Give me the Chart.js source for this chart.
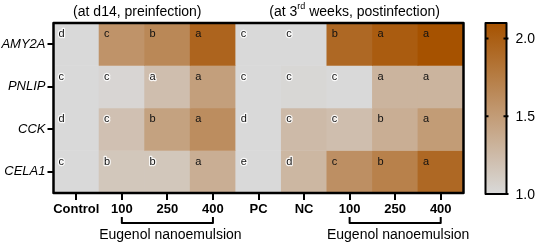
<!DOCTYPE html>
<html>
<head>
<meta charset="utf-8">
<script src="https://cdn.jsdelivr.net/npm/chart.js@4"></script>
<style>
html,body{margin:0;padding:0;background:#fff;}
canvas{display:block;}
</style>
</head>
<body>
<canvas id="heat" width="536" height="245"></canvas>
<script>
// heatmap of relative gene expression, drawn as floating bars (one dataset per gene row)
const genes = ['AMY2A', 'PNLIP', 'CCK', 'CELA1'];
const groups = ['Control', '100', '250', '400', 'PC', 'NC', '100', '250', '400'];

const amy2a = [1.0, 1.57, 1.66, 1.95, 1.0, 1.0, 1.92, 2.02, 2.1];
const pnlip = [1.0, 1.03, 1.22, 1.47, 1.0, 1.02, 1.0, 1.3, 1.3];
const cck   = [1.0, 1.2, 1.45, 1.62, 1.0, 1.25, 1.22, 1.35, 1.5];
const cela1 = [1.0, 1.15, 1.15, 1.35, 1.0, 1.28, 1.6, 1.72, 1.92];

const amy2aLetters = ['d', 'c', 'b', 'a', 'c', 'c', 'b', 'a', 'a'];
const pnlipLetters = ['c', 'c', 'a', 'a', 'c', 'c', 'c', 'a', 'a'];
const cckLetters   = ['d', 'c', 'b', 'a', 'd', 'c', 'c', 'b', 'a'];
const cela1Letters = ['c', 'b', 'b', 'a', 'e', 'd', 'c', 'b', 'a'];

const cbTicks = [1.0, 1.5, 2.0];
const cbMin = 1.0, cbMax = 2.1;

const rows = [amy2a, pnlip, cck, cela1];
const letterRows = [amy2aLetters, pnlipLetters, cckLetters, cela1Letters];

const lo = [217, 217, 217], hi = [166, 82, 0];
function colorFor(v){
  let t = (v - cbMin) / (cbMax - cbMin); t = Math.max(0, Math.min(1, t));
  const c = lo.map((a, k) => Math.round(a + (hi[k] - a) * t));
  return `rgb(${c[0]},${c[1]},${c[2]})`;
}

const FONT = 'Arial, "Liberation Sans", sans-serif';

const extras = {
  id: 'extras',
  afterDatasetsDraw(chart){
    const ctx = chart.ctx, xs = chart.scales.x, ys = chart.scales.y, a = chart.chartArea;
    const half = (xs.getPixelForValue(1) - xs.getPixelForValue(0)) / 2;
    ctx.save();
    // significance letters (white halo only on the pale cells)
    ctx.font = '11px ' + FONT; ctx.textBaseline = 'middle'; ctx.textAlign = 'left';
    ctx.lineJoin = 'round';
    letterRows.forEach((lr, r) => {
      lr.forEach((l, i) => {
        const x = xs.getPixelForValue(i) - half + 5;
        const y = ys.getPixelForValue(r - 0.5) + 11;
        if (rows[r][i] < 1.3) {
          ctx.strokeStyle = 'rgba(255,255,255,0.85)'; ctx.lineWidth = 2.5;
          ctx.strokeText(l, x, y);
        }
        ctx.fillStyle = '#111'; ctx.fillText(l, x, y);
      });
    });
    // plot frame
    ctx.strokeStyle = '#000'; ctx.lineWidth = 2.5;
    ctx.strokeRect(a.left, a.top, a.right - a.left, a.bottom - a.top);

    // colour bar
    const cx = a.right + 22, cw = 21, top = a.top, bot = a.bottom + 1;
    const g = ctx.createLinearGradient(0, bot, 0, top);
    for (let k = 0; k <= 10; k++) g.addColorStop(k / 10, colorFor(cbMin + (cbMax - cbMin) * k / 10));
    ctx.fillStyle = g; ctx.fillRect(cx, top, cw, bot - top);
    ctx.lineWidth = 2; ctx.strokeRect(cx, top, cw, bot - top);
    ctx.font = '14px ' + FONT; ctx.fillStyle = '#000'; ctx.textAlign = 'left'; ctx.textBaseline = 'middle';
    cbTicks.forEach(v => {
      const y = bot - (v - cbMin) / (cbMax - cbMin) * (bot - top);
      ctx.beginPath(); ctx.moveTo(cx, y); ctx.lineTo(cx + 3, y); ctx.moveTo(cx + cw - 3, y); ctx.lineTo(cx + cw + 2, y); ctx.stroke();
      ctx.fillText(v.toFixed(1), cx + cw + 9, y + 1);
    });

    // titles
    ctx.textAlign = 'center'; ctx.font = '14px ' + FONT;
    ctx.fillText('(at d14, preinfection)', xs.getPixelForValue(1.34), 12);
    const p1 = '(at 3', sup = 'rd', p2 = ' weeks, postinfection)';
    const w1 = ctx.measureText(p1).width, w3 = ctx.measureText(p2).width;
    ctx.font = '9px ' + FONT; const w2 = ctx.measureText(sup).width;
    let sx = xs.getPixelForValue(6.11) - (w1 + w2 + w3) / 2;
    ctx.textAlign = 'left';
    ctx.font = '14px ' + FONT; ctx.fillText(p1, sx, 12); sx += w1;
    ctx.font = '9px ' + FONT; ctx.fillText(sup, sx, 7); sx += w2;
    ctx.font = '14px ' + FONT; ctx.fillText(p2, sx, 12);

    // brackets under the nanoemulsion doses
    ctx.lineWidth = 2;
    [[1, 3], [6, 8]].forEach(([s, e]) => {
      const x1 = xs.getPixelForValue(s), x2 = xs.getPixelForValue(e);
      ctx.beginPath(); ctx.moveTo(x1, 217); ctx.lineTo(x1, 223); ctx.lineTo(x2, 223); ctx.lineTo(x2, 217); ctx.stroke();
      ctx.textAlign = 'center'; ctx.font = '14px ' + FONT;
      ctx.fillText('Eugenol nanoemulsion', (x1 + x2) / 2 + 3, 235);
    });
    ctx.restore();
  }
};

new Chart(document.getElementById('heat'), {
  type: 'bar',
  data: {
    labels: groups,
    datasets: rows.map((vals, r) => ({
      label: genes[r],
      data: vals.map(() => [r - 0.5, r + 0.5]),
      backgroundColor: vals.map(colorFor),
      borderWidth: 0,
      grouped: false,
      barPercentage: 1,
      categoryPercentage: 1
    }))
  },
  options: {
    responsive: false,
    animation: false,
    layout: { padding: { top: 23, right: 72.5, left: 0, bottom: 0 } },
    plugins: { legend: { display: false }, tooltip: { enabled: false } },
    scales: {
      x: {
        type: 'category',
        offset: true,
        grid: { offset: false, drawOnChartArea: false, tickLength: 7, lineWidth: 2, color: '#000' },
        border: { display: false },
        ticks: { color: '#000', font: { family: FONT, size: 13, weight: 'bold' }, padding: 2, maxRotation: 0, autoSkip: false },
        afterFit: s => { s.height = 52; }
      },
      y: {
        type: 'linear',
        reverse: true,
        min: -0.5, max: 3.5,
        afterBuildTicks: s => { s.ticks = genes.map((g, i) => ({ value: i })); },
        grid: { drawOnChartArea: false, tickLength: 6, lineWidth: 2, color: '#000' },
        border: { display: false },
        ticks: { color: '#000', font: { family: FONT, size: 13, style: 'italic' }, padding: 2, callback: v => genes[v] },
        afterFit: s => { s.width = 53.5; }
      }
    }
  },
  plugins: [extras]
});
</script>
</body>
</html>
